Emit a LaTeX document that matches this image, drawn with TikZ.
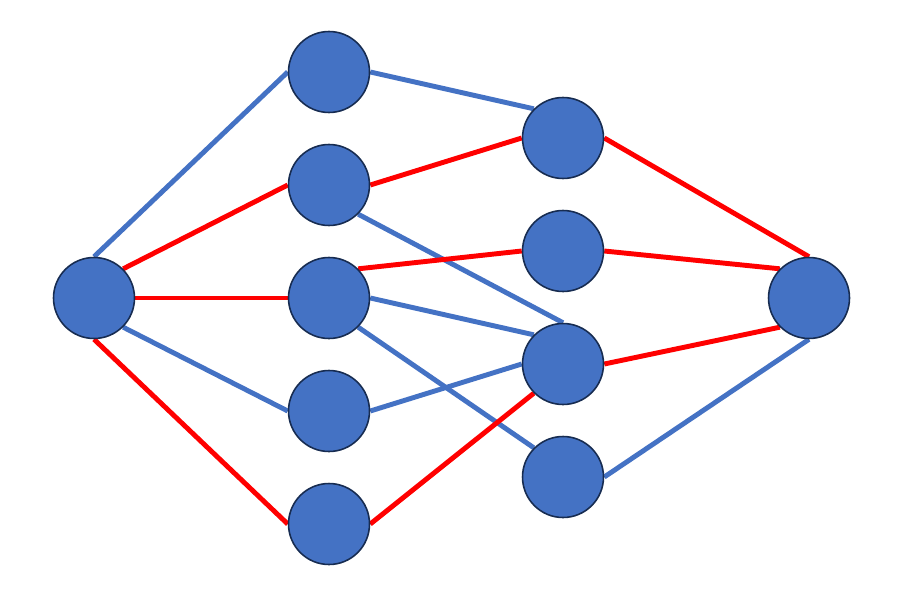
\documentclass[tikz,border=0pt]{standalone}
\usepackage{tikz}
\usetikzlibrary{backgrounds}
\definecolor{nodeblue}{HTML}{4472C4}
\definecolor{nodeedge}{HTML}{172C51}
\definecolor{linkred}{HTML}{FF0000}

\begin{document}
\begin{tikzpicture}[x=0.02cm,y=-0.02cm,
        unit/.style={circle, fill=nodeblue, draw=nodeedge, line width=0.9pt, minimum size=1.62cm, inner sep=0pt},
        blueline/.style={line width=2.8pt, nodeblue},
        redline/.style={line width=2.8pt, linkred}]
        \useasboundingbox (0,0) rectangle (901,588);

        % Draw the source and the sink
        \node[unit] (s) at (94,298) {};
        \node[unit] (t) at (809,298) {};

        % Draw the first layer
        \node[unit] (a1) at (329,72) {};
        \node[unit] (a2) at (329,185) {};
        \node[unit] (a3) at (329,298) {};
        \node[unit] (a4) at (329,411) {};
        \node[unit] (a5) at (329,524) {};

        % Draw the second layer
        \node[unit] (b1) at (563,138) {};
        \node[unit] (b2) at (563,251) {};
        \node[unit] (b3) at (563,364) {};
        \node[unit] (b4) at (563,477) {};

        \begin{pgfonlayer}{background}
        % Draw links from the source
        \draw[blueline] (s.north) -- (a1.west);
        \draw[redline] (s.north east) -- (a2.west);
        \draw[redline] (s.east) -- (a3.west);
        \draw[blueline] (s.south east) -- (a4.west);
        \draw[redline] (s.south) -- (a5.west);

        % Draw links between the layers
        \draw[blueline] (a1.east) -- (b1.north west);
        \draw[redline] (a2.east) -- (b1.west);
        \draw[blueline] (a2.south east) -- (b3.north);
        \draw[redline] (a3.north east) -- (b2.west);
        \draw[blueline] (a3.east) -- (b3.north west);
        \draw[blueline] (a3.south east) -- (b4.north west);
        \draw[blueline] (a4.east) -- (b3.west);
        \draw[redline] (a5.east) -- (b3.south west);

        % Draw links to the sink
        \draw[redline] (b1.east) -- (t.north);
        \draw[redline] (b2.east) -- (t.north west);
        \draw[redline] (b3.east) -- (t.south west);
        \draw[blueline] (b4.east) -- (t.south);
        \end{pgfonlayer}
    \end{tikzpicture}
\end{document}
